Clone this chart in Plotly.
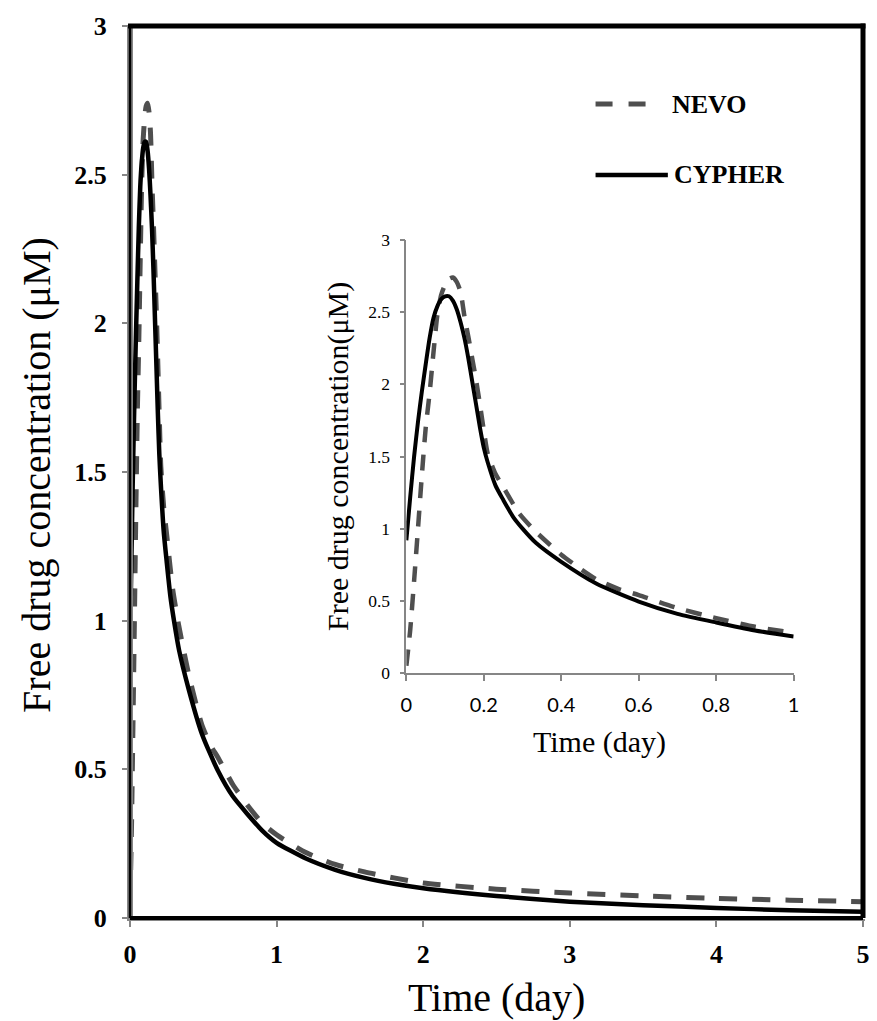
import plotly.graph_objects as go

# ---------------- data ----------------
cypher_t = [0, 0.01, 0.02, 0.03, 0.04, 0.05, 0.06, 0.07, 0.08, 0.09, 0.10, 0.11, 0.12,
            0.13, 0.14, 0.15, 0.16, 0.17, 0.18, 0.19, 0.20, 0.21, 0.23, 0.25, 0.276,
            0.30, 0.335, 0.40, 0.49, 0.60, 0.70, 0.80, 0.90, 1.0, 1.2, 1.4, 1.6, 1.8,
            2.0, 2.5, 3.0, 3.5, 4.0, 4.5, 5.0]
cypher_c = [0.92, 1.22, 1.50, 1.74, 1.95, 2.14, 2.32, 2.46, 2.54, 2.59, 2.61, 2.61, 2.58,
            2.52, 2.43, 2.32, 2.18, 2.02, 1.86, 1.70, 1.56, 1.46, 1.30, 1.20, 1.08,
            1.00, 0.90, 0.77, 0.62, 0.495, 0.41, 0.35, 0.295, 0.253, 0.20, 0.162, 0.135, 0.115,
            0.100, 0.074, 0.055, 0.043, 0.034, 0.026, 0.021]

nevo_t = [0, 0.01, 0.02, 0.03, 0.04, 0.05, 0.06, 0.07, 0.08, 0.09, 0.10, 0.11, 0.12,
          0.13, 0.14, 0.15, 0.16, 0.17, 0.18, 0.19, 0.20, 0.21, 0.23, 0.25, 0.29,
          0.33, 0.37, 0.40, 0.45, 0.49, 0.55, 0.60, 0.70, 0.80, 0.90, 1.0, 1.2, 1.4,
          1.6, 1.8, 2.0, 2.5, 3.0, 3.5, 4.0, 4.5, 5.0]
nevo_c = [0.05, 0.30, 0.64, 1.00, 1.37, 1.70, 1.94, 2.22, 2.48, 2.62, 2.69, 2.73, 2.74,
          2.71, 2.64, 2.47, 2.33, 2.18, 2.03, 1.86, 1.68, 1.52, 1.38, 1.29, 1.11,
          0.99, 0.89, 0.82, 0.72, 0.65, 0.58, 0.54, 0.45, 0.38, 0.32, 0.28, 0.22, 0.18,
          0.155, 0.135, 0.118, 0.097, 0.084, 0.074, 0.066, 0.060, 0.055]

main_xticks = [0, 1, 2, 3, 4, 5]
main_yticks = [0, 0.5, 1, 1.5, 2, 2.5, 3]
main_yticklabels = ["0", "0.5", "1", "1.5", "2", "2.5", "3"]
inset_xticks = [0, 0.2, 0.4, 0.6, 0.8, 1]
inset_xticklabels = ["0", "0.2", "0.4", "0.6", "0.8", "1"]
inset_yticks = [0, 0.5, 1, 1.5, 2, 2.5, 3]
inset_yticklabels = ["0", "0.5", "1", "1.5", "2", "2.5", "3"]

# ---------------- layout geometry (page pixels) ----------------
W, H = 877, 1021
L, R, T, B = 130, 870, 26, 918       # plot area in pixels


def px(x):
    return (x - L) / (R - L)


def py(y):
    return (B - y) / (B - T)


SERIF = "Liberation Serif, Times New Roman, serif"
SANS = "Lato, Carlito, Calibri, sans-serif"
GRAY = "#868686"
DASHC = "#4f4f4f"

fig = go.Figure()

# main plot
fig.add_trace(go.Scatter(x=nevo_t, y=nevo_c, mode="lines", name="NEVO",
                         line=dict(color=DASHC, width=5, dash="18px,15px", shape="spline", smoothing=0.6),
                         xaxis="x", yaxis="y", showlegend=False))
fig.add_trace(go.Scatter(x=cypher_t, y=cypher_c, mode="lines", name="CYPHER",
                         line=dict(color="black", width=4.5, shape="spline", smoothing=0.6),
                         xaxis="x", yaxis="y", showlegend=False))

# inset
inset_n_t = [t for t in nevo_t if t <= 1.0]
inset_n_c = nevo_c[:len(inset_n_t)]
inset_c_t = [t for t in cypher_t if t <= 1.0]
inset_c_c = cypher_c[:len(inset_c_t)]
fig.add_trace(go.Scatter(x=inset_n_t, y=inset_n_c, mode="lines", name="NEVO",
                         line=dict(color=DASHC, width=4.5, dash="16px,12px", shape="spline", smoothing=0.6),
                         xaxis="x2", yaxis="y2", showlegend=False))
fig.add_trace(go.Scatter(x=inset_c_t, y=inset_c_c, mode="lines", name="CYPHER",
                         line=dict(color="black", width=4, shape="spline", smoothing=0.6),
                         xaxis="x2", yaxis="y2", showlegend=False))

fig.update_layout(
    width=W, height=H,
    margin=dict(l=L, r=W - R, t=T, b=H - B, pad=0),
    paper_bgcolor="white", plot_bgcolor="white",
    showlegend=False,
    xaxis=dict(domain=[0, 1], range=[0, 5], tickvals=main_xticks,
               ticktext=[str(v) for v in main_xticks],
               showgrid=False, zeroline=False, showline=False,
               ticks="outside", ticklen=8, tickwidth=1.5, tickcolor=GRAY,
               ticklabelstandoff=5,
               tickfont=dict(family=SERIF, size=26, color="black", weight="bold")),
    yaxis=dict(domain=[0, 1], range=[0, 3], tickvals=main_yticks, ticktext=main_yticklabels,
               showgrid=False, zeroline=False, showline=False,
               ticks="outside", ticklen=7, tickwidth=1.5, tickcolor=GRAY,
               ticklabelstandoff=10,
               tickfont=dict(family=SERIF, size=26, color="black", weight="bold")),
    xaxis2=dict(domain=[px(409), px(800)], anchor="y2", range=[0, 1],
                tickvals=inset_xticks, ticktext=inset_xticklabels,
                showgrid=False, zeroline=False, showline=True, linecolor=GRAY, linewidth=1.5,
                ticks="outside", ticklen=6, tickwidth=1.5, tickcolor=GRAY,
                ticklabelstandoff=7,
                tickfont=dict(family=SANS, size=20, color="black")),
    yaxis2=dict(domain=[py(673), py(240)], anchor="x2", range=[0, 3],
                tickvals=inset_yticks, ticktext=inset_yticklabels,
                showgrid=False, zeroline=False, showline=True, linecolor=GRAY, linewidth=1.5,
                ticks="outside", ticklen=5, tickwidth=1.5, tickcolor=GRAY,
                ticklabelstandoff=6,
                tickfont=dict(family=SERIF, size=17.5, color="black")),
)

shapes = [
    # left edge: gray-black-gray
    dict(type="line", xref="paper", yref="paper", x0=0, x1=0, y0=py(B + 3), y1=1,
         line=dict(color=GRAY, width=6), layer="above"),
    dict(type="line", xref="paper", yref="paper", x0=0, x1=0, y0=0, y1=1,
         line=dict(color="black", width=2.5), layer="above"),
    # bottom edge: black with gray below
    dict(type="line", xref="paper", yref="paper", x0=px(L - 3), x1=px(R + 2), y0=py(B + 2), y1=py(B + 2),
         line=dict(color=GRAY, width=2), layer="above"),
    dict(type="line", xref="paper", yref="paper", x0=0, x1=1, y0=0, y1=0,
         line=dict(color="black", width=4), layer="above"),
    # top and right edges: thick black
    dict(type="line", xref="paper", yref="paper", x0=px(L - 2), x1=px(R + 2.5), y0=1, y1=1,
         line=dict(color="black", width=5), layer="above"),
    dict(type="line", xref="paper", yref="paper", x0=1, x1=1, y0=0, y1=py(T - 2.5),
         line=dict(color="black", width=5), layer="above"),
    # legend samples
    dict(type="line", xref="paper", yref="paper", x0=px(600), x1=px(651), y0=py(104), y1=py(104),
         line=dict(color=DASHC, width=5, dash="17px,16px"), layer="above"),
    dict(type="line", xref="paper", yref="paper", x0=px(600), x1=px(673), y0=py(175), y1=py(175),
         line=dict(color="black", width=4.5), layer="above"),
]
fig.update_layout(shapes=shapes)

annotations = [
    dict(text="NEVO", x=px(675), y=py(104), xref="paper", yref="paper", xanchor="left", yanchor="middle",
         showarrow=False, font=dict(family=SERIF, size=26, color="black", weight="bold")),
    dict(text="CYPHER", x=px(677), y=py(175), xref="paper", yref="paper", xanchor="left", yanchor="middle",
         showarrow=False, font=dict(family=SERIF, size=26, color="black", weight="bold")),
    # main axis titles
    dict(text="Time (day)", x=px(500), y=py(997), xref="paper", yref="paper",
         xanchor="center", yanchor="middle", showarrow=False,
         font=dict(family=SERIF, size=40, color="black")),
    dict(text="Free drug concentration (μM)", x=px(36), y=py(475), xref="paper", yref="paper",
         xanchor="center", yanchor="middle", textangle=-90, showarrow=False,
         font=dict(family=SERIF, size=40, color="black")),
    # inset axis titles
    dict(text="Time (day)", x=px(604), y=py(742), xref="paper", yref="paper",
         xanchor="center", yanchor="middle", showarrow=False,
         font=dict(family=SERIF, size=30, color="black")),
    dict(text="Free drug concentration(μM)", x=px(340), y=py(457), xref="paper", yref="paper",
         xanchor="center", yanchor="middle", textangle=-90, showarrow=False,
         font=dict(family=SERIF, size=30, color="black")),
]
fig.update_layout(annotations=annotations)

# remove the browser's default page margin so the figure sits at the window origin
page_fix = ("document.body.style.margin='0';"
            "document.body.style.overflow='hidden';"
            "document.documentElement.style.overflow='hidden';")

fig.write_html("out.html", post_script=page_fix, config={"displayModeBar": False})
